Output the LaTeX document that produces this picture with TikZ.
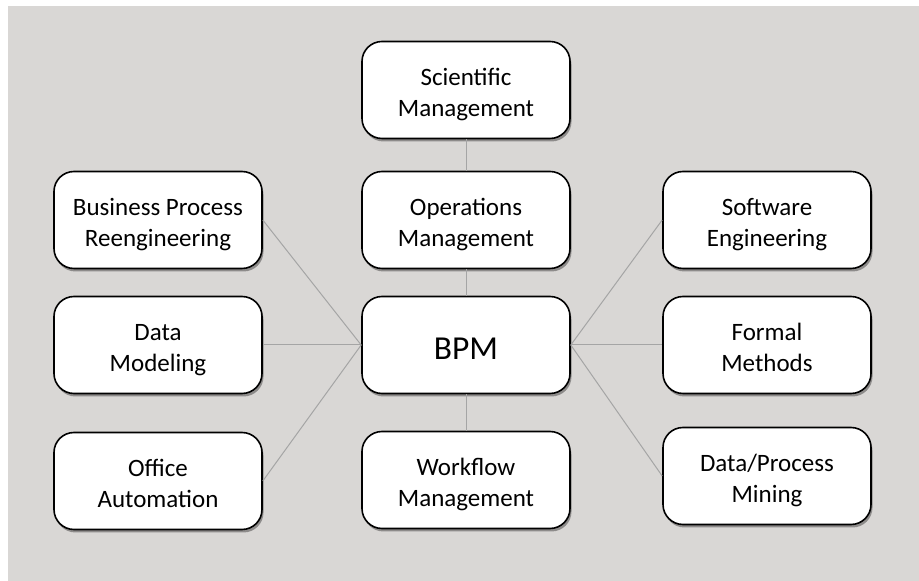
\documentclass[tikz,border=0pt]{standalone}
\usepackage{fontspec}
\setmainfont{Carlito}
\usetikzlibrary{shadows}
\definecolor{bggray}{RGB}{217,215,213}
\definecolor{linegray}{RGB}{165,165,165}
% push the text of a box a little down, keeping its size
\newcommand{\boxtext}[2][-5pt]{\raisebox{#1}[\height][\depth]{\begin{tabular}{@{}c@{}}#2\end{tabular}}}

\begin{document}
\begin{tikzpicture}[x=1pt,y=1pt,
    topic/.style={draw=black, line width=1.6pt, fill=white, rounded corners=20pt,
      minimum width=208pt, minimum height=97pt, inner sep=0pt,
      font=\fontsize{25}{31}\selectfont,
      drop shadow={shadow xshift=1.5pt, shadow yshift=-3pt, opacity=0.35, fill=black}},
    link/.style={draw=linegray, line width=1pt}]
    \useasboundingbox (0,0) rectangle (919,581);
    \fill[bggray] (8,0) rectangle (919,575);
    % centre column
    \node[topic] (sci) at (466,491) {\boxtext{Scientific\\Management}};
    \node[topic] (ops) at (466,361) {\boxtext{Operations\\Management}};
    \node[topic, font=\fontsize{33.5}{38}\selectfont] (bpm) at (466,236) {\boxtext[-7pt]{BPM}};
    \node[topic] (wf) at (466,101) {\boxtext{Workflow\\Management}};
    % left column
    \node[topic] (bpr) at (158,361) {\boxtext{Business Process\\Reengineering}};
    \node[topic] (dm) at (158,236) {\boxtext{Data\\Modeling}};
    \node[topic] (oa) at (158,100) {\boxtext{Office\\Automation}};
    % right column
    \node[topic] (se) at (767,361) {\boxtext{Software\\Engineering}};
    \node[topic] (fm) at (767,236) {\boxtext{Formal\\Methods}};
    \node[topic] (dpm) at (767,105) {\boxtext{Data/Process\\Mining}};
    % connectors
    \draw[link] (sci.south) -- (ops.north);
    \draw[link] (ops.south) -- (bpm.north);
    \draw[link] (bpm.south) -- (wf.north);
    \foreach \n in {bpr,dm,oa} \draw[link] (bpm.west) -- (\n.east);
    \foreach \n in {se,fm,dpm} \draw[link] (bpm.east) -- (\n.west);
\end{tikzpicture}
\end{document}
